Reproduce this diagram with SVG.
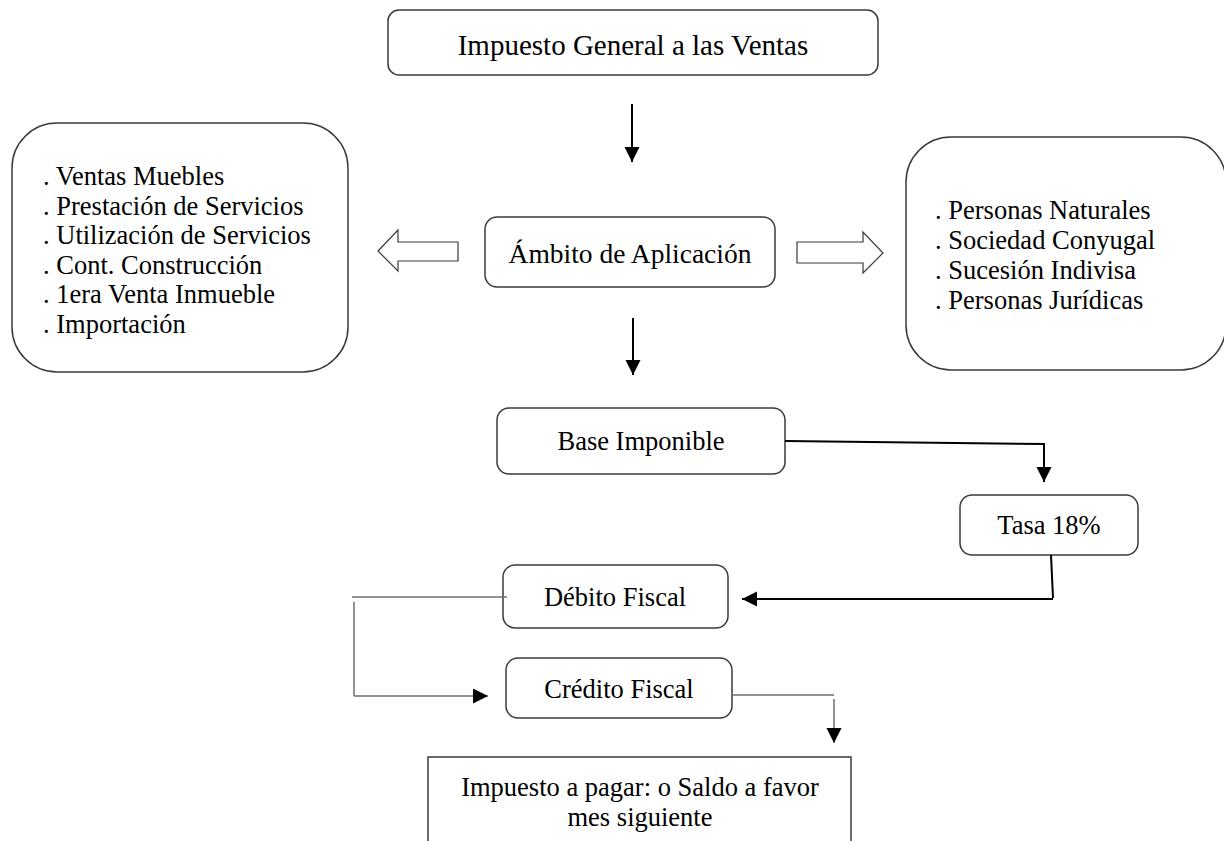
<svg xmlns="http://www.w3.org/2000/svg" width="1224" height="841" viewBox="0 0 1224 841">
<style>
.box{fill:#fff;stroke:#3a3a3a;stroke-width:1.5}
.t{font-family:"Liberation Serif","Times New Roman",serif;font-size:26.5px;fill:#000}
.c{text-anchor:middle}
.blk{fill:#fff;stroke:#3a3a3a;stroke-width:1.2}
.ln{fill:none;stroke:#000;stroke-width:2}
.gl{fill:none;stroke:#6e6e6e;stroke-width:1.5}
</style>
<defs>
<marker id="ah" markerUnits="userSpaceOnUse" markerWidth="16" markerHeight="16" refX="15" refY="7.5" orient="auto">
<path d="M0,0 L15,7.5 L0,15 z" fill="#000"/>
</marker>
</defs>
<rect width="1224" height="841" fill="#fff"/>
<g id="title">
<rect class="box" x="388" y="10" width="490" height="65" rx="11"/>
<text class="t c" x="633" y="55" style="font-size:29px">Impuesto General a las Ventas</text>
</g>
<g id="left-list">
<rect class="box" x="12" y="123" width="336" height="249" rx="45"/>
<text class="t" x="43" y="185">. Ventas Muebles</text>
<text class="t" x="43" y="214.6">. Prestación de Servicios</text>
<text class="t" x="43" y="244.2">. Utilización de Servicios</text>
<text class="t" x="43" y="273.8">. Cont. Construcción</text>
<text class="t" x="43" y="303.4">. 1era Venta Inmueble</text>
<text class="t" x="43" y="333">. Importación</text>
</g>
<g id="ambito">
<rect class="box" x="485" y="217" width="290" height="70" rx="12"/>
<text class="t c" x="630" y="263" style="font-size:27.5px">Ámbito de Aplicación</text>
</g>
<g id="right-list">
<rect class="box" x="906" y="137" width="320" height="233" rx="45"/>
<text class="t" x="935" y="219">. Personas Naturales</text>
<text class="t" x="935" y="249">. Sociedad Conyugal</text>
<text class="t" x="935" y="279">. Sucesión Indivisa</text>
<text class="t" x="935" y="309">. Personas Jurídicas</text>
</g>
<g id="base">
<rect class="box" x="497" y="408" width="288" height="66" rx="12"/>
<text class="t c" x="641" y="450">Base Imponible</text>
</g>
<g id="tasa">
<rect class="box" x="960" y="495" width="178" height="60" rx="12"/>
<text class="t c" x="1049" y="534">Tasa 18%</text>
</g>
<g id="debito">
<rect class="box" x="503" y="565" width="225" height="63" rx="12"/>
<text class="t c" x="615" y="606">Débito Fiscal</text>
</g>
<g id="credito">
<rect class="box" x="506" y="658" width="226" height="60" rx="12"/>
<text class="t c" x="619" y="698">Crédito Fiscal</text>
</g>
<g id="resultado">
<rect class="box" x="428" y="757" width="423" height="140"/>
<text class="t c" x="640" y="796">Impuesto a pagar: o Saldo a favor</text>
<text class="t c" x="640" y="826">mes siguiente</text>
</g>
<g id="connectors">
<path class="blk" d="M378,251 L398,230 L398,242 L458,242 L458,261 L398,261 L398,271 Z"/>
<path class="blk" d="M797,242 L863,242 L863,232 L883,253 L863,273 L863,263 L797,263 Z"/>
<line class="ln" x1="632" y1="104" x2="632" y2="162" marker-end="url(#ah)"/>
<line class="ln" x1="633" y1="318" x2="633" y2="375" marker-end="url(#ah)"/>
<polyline class="ln" points="785,441 1044,444 1044,482" marker-end="url(#ah)"/>
<line class="ln" x1="1051" y1="555" x2="1053" y2="598"/>
<line class="ln" x1="1053" y1="599" x2="742" y2="599" marker-end="url(#ah)"/>
<line class="gl" x1="507" y1="597" x2="352" y2="597"/>
<line class="gl" x1="354" y1="602" x2="354" y2="696"/>
<line class="gl" x1="354" y1="696" x2="488" y2="696" marker-end="url(#ah)"/>
<line class="gl" x1="732" y1="695" x2="834" y2="695"/>
<line class="gl" x1="834" y1="699" x2="834" y2="743" marker-end="url(#ah)"/>
</g>
</svg>
